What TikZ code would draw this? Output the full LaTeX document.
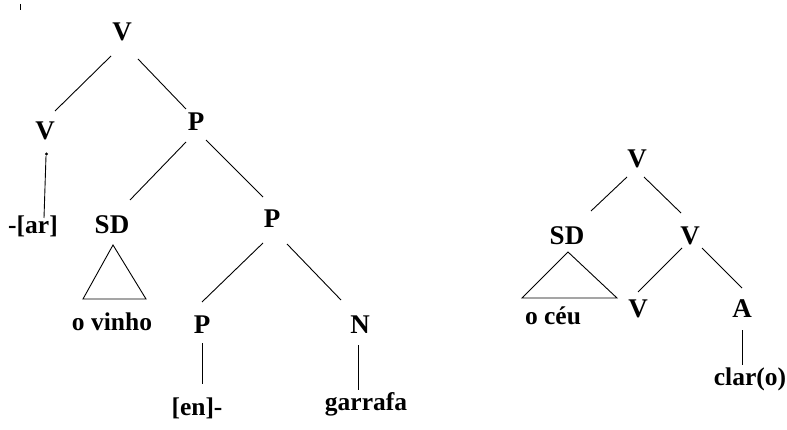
\documentclass[tikz,border=0pt]{standalone}
\usepackage{fontspec}
\setmainfont{Liberation Serif}
\usetikzlibrary{calc}
\begin{document}
\begin{tikzpicture}[x=1pt,y=-1pt,
  lab/.style={font=\bfseries\fontsize{27}{29}\selectfont, inner sep=0pt, anchor=center},
  wlab/.style={font=\bfseries\fontsize{25.5}{27}\selectfont, inner sep=0pt, anchor=center},
  edge/.style={line width=0.9pt, black}]
\useasboundingbox (0,0) rectangle (787,430);
% stray tick
\coordinate (t1) at (20,4);
\coordinate (t2) at (20,10);
\draw[edge] (t1) -- (t2);
% left tree
\node[lab] (V1) at (122,32) {V};
\node[lab] (V1l) at (45,131) {V};
\node[lab] (P1) at (196,122) {P};
\node[wlab] (ar) at (33,226) {-[ar]};
\node[lab] (SD1) at (112,225) {SD};
\node[lab] (P2) at (272,219) {P};
\node[wlab] (vinho) at (112,322) {o vinho};
\node[lab] (P3) at (202,325) {P};
\node[lab] (N) at (360,325) {N};
\node[wlab] (en) at (197,408) {[en]-};
\node[wlab] (garrafa) at (366,404) {garrafa};
\draw[edge] ($(V1)+(-11,24)$) -- ($(V1l)+(10,-20)$);
\draw[edge] ($(V1)+(16,27)$) -- ($(P1)+(-10,-13)$);
\draw[edge] ($(V1l)+(1,25)$) -- ($(ar)+(11,-8)$);
\fill ($(V1l)+(1.5,23)$) circle (1.6);
\draw[edge] ($(P1)+(-10,20)$) -- ($(SD1)+(18,-25)$);
\draw[edge] ($(P1)+(10,18)$) -- ($(P2)+(-9,-22)$);
\draw[edge] ($(SD1)+(1,20)$) -- ($(SD1)+(-29,74)$) -- ($(SD1)+(34,74)$) -- cycle;
\draw[edge] ($(P2)+(-9,24)$) -- ($(P3)+(0,-23)$);
\draw[edge] ($(P2)+(15,25)$) -- ($(N)+(-19,-25)$);
\draw[edge] ($(P3)+(0,18)$) -- ($(en)+(5,-24)$);
\draw[edge] ($(N)+(-2,20)$) -- ($(garrafa)+(-8,-14)$);
% right tree
\node[lab] (V2) at (637,159) {V};
\node[lab] (SD2) at (567,236) {SD};
\node[lab] (Vm) at (690,236) {V};
\node[lab] (Vb) at (638,309) {V};
\node[lab] (A) at (742,309) {A};
\node[wlab] (ceu) at (553,316) {o céu};
\node[wlab] (clar) at (750,379) {clar(o)};
\draw[edge] ($(V2)+(-10,18)$) -- ($(SD2)+(24,-25)$);
\draw[edge] ($(V2)+(7,18)$) -- ($(Vm)+(-9,-23)$);
\draw[edge] ($(SD2)+(1,16)$) -- ($(SD2)+(-45,62)$) -- ($(SD2)+(50,62)$) -- cycle;
\draw[edge] ($(Vm)+(-8,12)$) -- ($(Vb)+(0,-17)$);
\draw[edge] ($(Vm)+(12,12)$) -- ($(A)+(0,-21)$);
\draw[edge] ($(A)+(0,21)$) -- ($(clar)+(-8,-14)$);
\end{tikzpicture}
\end{document}
